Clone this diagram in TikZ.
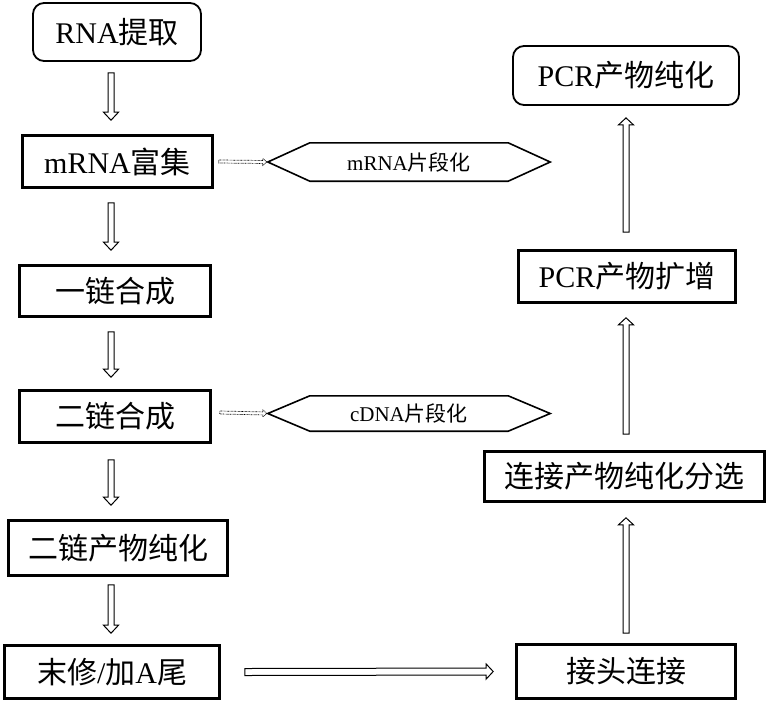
\documentclass[tikz,border=0pt]{standalone}
\usepackage{fontspec}
\setmainfont{Liberation Serif}
\newfontfamily\cjk{Noto Sans CJK SC}
\usetikzlibrary{calc}
% #1 style, #2 start, #3 end, #4 head length, #5 shaft half width, #6 head half width
\newcommand\blkarrow[6]{%
  \coordinate (bah) at ($(#3)!#4!(#2)$);
  \draw[#1] ($(#2)!#5!90:(#3)$) -- ($(bah)!#5!-90:(#2)$) -- ($(bah)!#6!-90:(#2)$) -- (#3)
    -- ($(bah)!#6!90:(#2)$) -- ($(bah)!#5!90:(#2)$) -- ($(#2)!#5!-90:(#3)$) -- cycle;}
\begin{document}
\begin{tikzpicture}[x=1pt,y=-1pt,
  bx/.style 2 args={draw, line width=2.6pt, minimum width=#1, minimum height=#2, inner sep=0pt, font=\fontsize{30}{34}\selectfont},
  rbx/.style 2 args={draw, line width=1.8pt, rounded corners=11pt, minimum width=#1, minimum height=#2, inner sep=0pt, font=\fontsize{30}{34}\selectfont},
  hexnode/.style 2 args={minimum width=#1, minimum height=#2, inner sep=0pt, font=\fontsize{21}{24}\selectfont},
  hexline/.style={line width=1.6pt, line join=miter},
  barrow/.style={line width=1pt, fill=white, line join=miter},
  darrow/.style={line width=0.7pt, dash pattern=on 0.7pt off 0.7pt, line join=miter}]
\useasboundingbox (0,0) rectangle (770,702);
% left column
\node[rbx={168}{58}] (rna) at (117,32) {RNA{\cjk 提取}};
\node[bx={190}{52}] (mrna) at (117.5,161.5) {mRNA{\cjk 富集}};
\node[bx={191}{51}] (yl) at (115,291) {\cjk 一链合成};
\node[bx={191}{52}] (el) at (115,416.5) {\cjk 二链合成};
\node[bx={219}{55}] (elc) at (118,548) {\cjk 二链产物纯化};
\node[bx={215}{53}] (mx) at (112,672) {{\cjk 末修}/{\cjk 加}A{\cjk 尾}};
% right column
\node[bx={219}{54}] (jt) at (626,671.5) {\cjk 接头连接};
\node[bx={280}{50}] (ljc) at (624.5,476.5) {\cjk 连接产物纯化分选};
\node[bx={217}{52}] (pcrk) at (627,276.5) {PCR{\cjk 产物扩增}};
\node[rbx={226}{59}] (pcrc) at (626,75.5) {PCR{\cjk 产物纯化}};
% hexagons
\node[hexnode={282}{38}] (h1) at (409,162) {mRNA{\cjk 片段化}};
\node[hexnode={282}{35}] (h2) at (409,413.5) {cDNA{\cjk 片段化}};
\draw[hexline] (h1.west) -- ([xshift=42pt]h1.north west) -- ([xshift=-42pt]h1.north east) -- (h1.east) -- ([xshift=-42pt]h1.south east) -- ([xshift=42pt]h1.south west) -- cycle;
\draw[hexline] (h2.west) -- ([xshift=42pt]h2.north west) -- ([xshift=-42pt]h2.north east) -- (h2.east) -- ([xshift=-42pt]h2.south east) -- ([xshift=42pt]h2.south west) -- cycle;
% left arrows
\coordinate (ax) at (111,0);
\coordinate (a1s) at ($(ax |- rna.south)+(0,11)$);  \coordinate (a1e) at ($(ax |- mrna.north)+(0,-14)$);
\coordinate (a2s) at ($(ax |- mrna.south)+(0,14)$); \coordinate (a2e) at ($(ax |- yl.north)+(0,-14)$);
\coordinate (a3s) at ($(ax |- yl.south)+(0,14)$);   \coordinate (a3e) at ($(ax |- el.north)+(0,-12)$);
\coordinate (a4s) at ($(ax |- el.south)+(0,16)$);   \coordinate (a4e) at ($(ax |- elc.north)+(0,-14)$);
\coordinate (a5s) at ($(ax |- elc.south)+(0,8)$);   \coordinate (a5e) at ($(ax |- mx.north)+(0,-11)$);
\blkarrow{barrow}{a1s}{a1e}{8pt}{3pt}{7.5pt}
\blkarrow{barrow}{a2s}{a2e}{8pt}{3pt}{7.5pt}
\blkarrow{barrow}{a3s}{a3e}{8pt}{3pt}{7.5pt}
\blkarrow{barrow}{a4s}{a4e}{8pt}{3pt}{7.5pt}
\blkarrow{barrow}{a5s}{a5e}{8pt}{3pt}{7.5pt}
% bottom arrow
\coordinate (b1s) at ($(mx.east)+(24,0)$); \coordinate (b1e) at ($(jt.west)+(-22,0)$);
\blkarrow{barrow}{b1s}{b1e}{7pt}{3.5pt}{7.5pt}
% right arrows
\coordinate (bxr) at (626,0);
\coordinate (c1s) at ($(bxr |- jt.north)+(0,-10)$);  \coordinate (c1e) at ($(bxr |- ljc.south)+(0,15)$);
\coordinate (c2s) at ($(bxr |- ljc.north)+(0,-16)$); \coordinate (c2e) at ($(bxr |- pcrk.south)+(0,14)$);
\coordinate (c3s) at ($(bxr |- pcrk.north)+(0,-17)$); \coordinate (c3e) at ($(bxr |- pcrc.south)+(0,12)$);
\blkarrow{barrow}{c1s}{c1e}{7pt}{3pt}{7.5pt}
\blkarrow{barrow}{c2s}{c2e}{7pt}{3pt}{7.5pt}
\blkarrow{barrow}{c3s}{c3e}{7pt}{3pt}{7.5pt}
% dotted arrows
\coordinate (d1s) at ($(mrna.east)+(5,0)$); \coordinate (d1e) at ($(h1.west)+(-1,0)$);
\coordinate (d2s) at ($(el.east)+(8,-4)$);   \coordinate (d2e) at ($(h2.west)+(-1,0)$);
\blkarrow{darrow}{d1s}{d1e}{4pt}{1.5pt}{3.5pt}
\blkarrow{darrow}{d2s}{d2e}{4pt}{1.5pt}{3.5pt}
\end{tikzpicture}
\end{document}
